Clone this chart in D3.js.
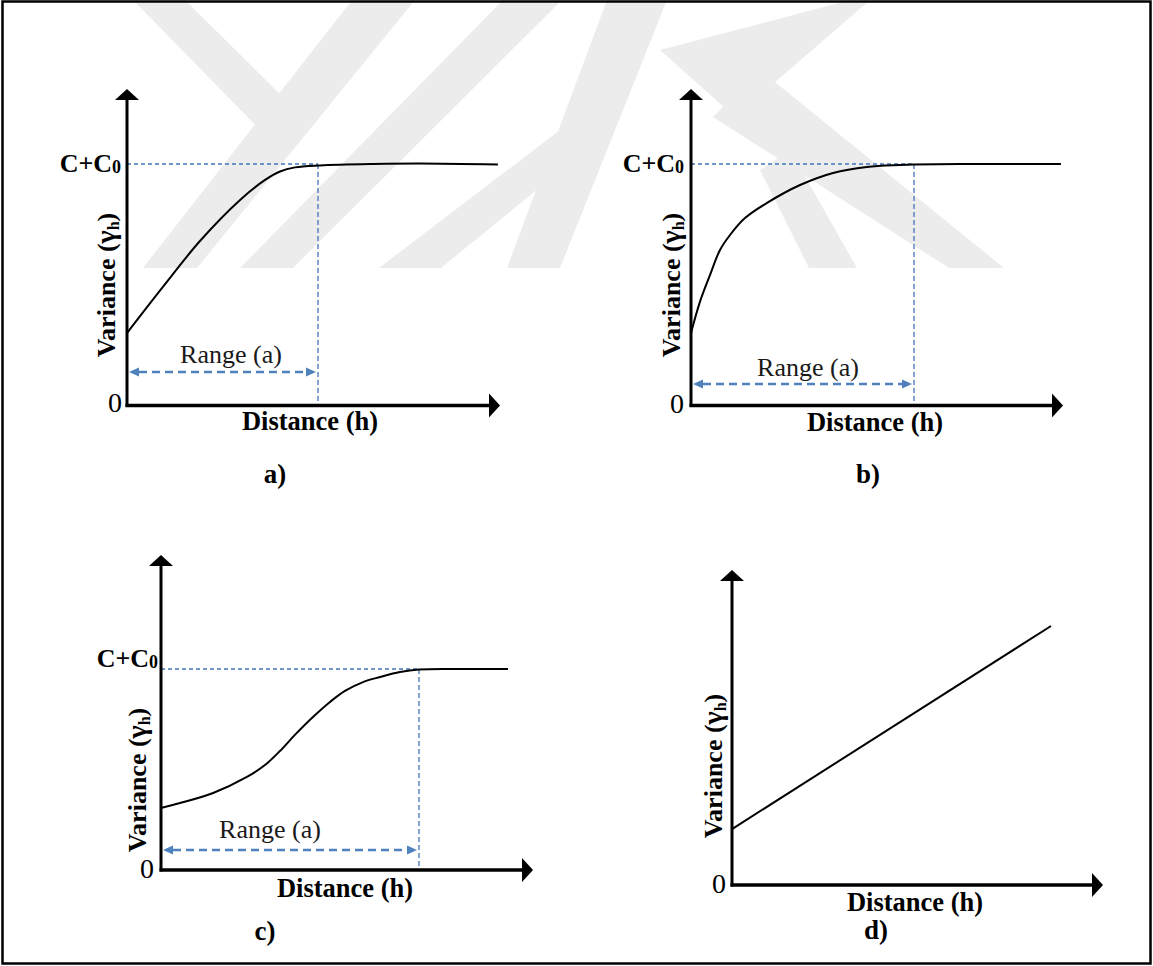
<!DOCTYPE html>
<html>
<head>
<meta charset="utf-8">
<script src="https://cdn.jsdelivr.net/npm/d3@7"></script>
<style>
  body { margin: 0; background: #fff; }
  svg { display: block; }
</style>
</head>
<body>
<svg id="fig" width="1153" height="966"></svg>
<script>
// Semivariogram models. Distance is given as a fraction of the range (h/a),
// variance as a fraction of the sill (C + C0).
const panelKeys = ["a", "b", "c", "d"];

// a) spherical model
const sphericalH = [0, 0.188, 0.382, 0.592, 0.723, 0.801, 0.880, 1.010, 1.288, 1.534, 1.942];
const sphericalG = [0.300, 0.491, 0.681, 0.851, 0.934, 0.969, 0.986, 0.994, 1.000, 1.002, 0.998];

// b) exponential model
const exponentialH = [0, 0.040, 0.085, 0.130, 0.175, 0.242, 0.341, 0.489, 0.637, 0.789, 0.937, 1.000, 1.206, 1.659];
const exponentialG = [0.300, 0.429, 0.540, 0.644, 0.706, 0.776, 0.839, 0.913, 0.963, 0.988, 0.996, 0.998, 1.000, 1.000];

// c) gaussian model
const gaussianH = [0, 0.074, 0.202, 0.333, 0.403, 0.461, 0.519, 0.589, 0.655, 0.713, 0.783, 0.849, 0.926, 1.000, 1.198, 1.345];
const gaussianG = [0.308, 0.333, 0.383, 0.463, 0.522, 0.592, 0.672, 0.761, 0.836, 0.891, 0.935, 0.960, 0.985, 0.998, 1.000, 1.000];

// d) linear model (no sill)
const linearH = [0, 1];
const linearG = [0.216, 1];

const seriesH = { a: sphericalH, b: exponentialH, c: gaussianH, d: linearH };
const seriesG = { a: sphericalG, b: exponentialG, c: gaussianG, d: linearG };

// Text
const yAxisTitle = "Variance (";
const xAxisTitle = "Distance (h)";
const sillText = "C+C";
const rangeText = "Range (a)";
const zeroText = "0";
const panelTags = { a: "a)", b: "b)", c: "c)", d: "d)" };
const hasSill = { a: true, b: true, c: true, d: false };

// Panel geometry
const layout = {
  a: { ox: 127, oy: 405.5, xTip: 500, yTip: 89, ux: 191, uy: 241.5,
       rangeY: 372, rangeLbl: [231, 363], sillLbl: [121, 172], zeroLbl: [122, 412],
       yLbl: [115, 285], xLbl: [310, 430], tag: [275, 483] },
  b: { ox: 691, oy: 405.5, xTip: 1063, yTip: 89, ux: 223, uy: 241.5,
       rangeY: 384, rangeLbl: [808, 376], sillLbl: [684, 172], zeroLbl: [684, 413],
       yLbl: [680, 285], xLbl: [875, 431], tag: [868, 483] },
  c: { ox: 161, oy: 870, xTip: 533, yTip: 555, ux: 258, uy: 201,
       rangeY: 850, rangeLbl: [270, 838], sillLbl: [158, 667], zeroLbl: [154, 878],
       yLbl: [146, 780], xLbl: [345, 897], tag: [265, 940] },
  d: { ox: 732, oy: 885, xTip: 1103, yTip: 570, ux: 319, uy: 259,
       zeroLbl: [726, 893], yLbl: [722, 766], xLbl: [915, 911], tag: [876, 939] }
};

const W = 1153, H = 966;
const svg = d3.select("#fig");
const serif = "'Liberation Serif', 'Times New Roman', serif";
const refBlue = "#3f76ba";
const arrowBlue = "#4f81bd";

// faint background emblem
const emblem = [
  [[133, 0], [185, 0], [290, 104], [262, 132]],
  [[352, 0], [415, 0], [197, 268], [143, 268]],
  [[503, 0], [562, 0], [293, 268], [240, 268]],
  [[560, 130], [610, 130], [441, 268], [379, 268]],
  [[607, 0], [667, 0], [560, 268], [507, 268]],
  [[660, 50], [850, 0], [870, 0], [735, 117]],
  [[713, 117], [760, 70], [1004, 268], [949, 268]],
  [[760, 170], [790, 150], [857, 268], [809, 268]]
];
svg.append("g")
  .selectAll("polygon")
  .data(emblem)
  .join("polygon")
  .attr("points", d => d.map(p => p.join(",")).join(" "))
  .attr("fill", "#ececec");

// outer frame
svg.append("rect")
  .attr("x", 2.5).attr("y", 1.5)
  .attr("width", W - 5).attr("height", H - 4)
  .attr("fill", "none").attr("stroke", "#000").attr("stroke-width", 2.5);

panelKeys.forEach(key => {
  const L = layout[key];
  const g = svg.append("g").attr("class", "panel-" + key);

  const x = d3.scaleLinear().domain([0, 1]).range([L.ox, L.ox + L.ux]);
  const y = d3.scaleLinear().domain([0, 1]).range([L.oy, L.oy - L.uy]);

  // reference lines for sill and range
  if (hasSill[key]) {
    g.append("line")
      .attr("x1", x(0)).attr("x2", x(1))
      .attr("y1", y(1)).attr("y2", y(1))
      .attr("stroke", refBlue).attr("stroke-width", 1.3)
      .attr("stroke-dasharray", "4,3");
    g.append("line")
      .attr("x1", x(1)).attr("x2", x(1))
      .attr("y1", y(1)).attr("y2", L.oy)
      .attr("stroke", refBlue).attr("stroke-width", 1.3)
      .attr("stroke-dasharray", "5,3");

    // double-headed range arrow
    const x0 = x(0) + 2, x1 = x(1) - 2, ry = L.rangeY, ah = 10, aw = 4.5;
    g.append("line")
      .attr("x1", x0 + ah).attr("x2", x1 - ah)
      .attr("y1", ry).attr("y2", ry)
      .attr("stroke", arrowBlue).attr("stroke-width", 2.5)
      .attr("stroke-dasharray", "8,5");
    g.append("polygon")
      .attr("points", [[x0, ry], [x0 + ah, ry - aw], [x0 + ah, ry + aw]].join(" "))
      .attr("fill", arrowBlue);
    g.append("polygon")
      .attr("points", [[x1, ry], [x1 - ah, ry - aw], [x1 - ah, ry + aw]].join(" "))
      .attr("fill", arrowBlue);

    g.append("text")
      .attr("x", L.rangeLbl[0]).attr("y", L.rangeLbl[1])
      .attr("text-anchor", "middle")
      .attr("font-family", serif).attr("font-size", 26)
      .attr("fill", "#1a1a1a")
      .text(rangeText);

    const s = g.append("text")
      .attr("x", L.sillLbl[0]).attr("y", L.sillLbl[1])
      .attr("text-anchor", "end")
      .attr("font-family", serif).attr("font-size", 26)
      .attr("font-weight", "bold");
    s.append("tspan").text(sillText);
    s.append("tspan").attr("font-size", 18).attr("dy", 1).text("0");
  }

  // model curve
  const pts = seriesH[key].map((h, i) => [h, seriesG[key][i]]);
  const line = d3.line()
    .x(d => x(d[0])).y(d => y(d[1]))
    .curve(key === "d" ? d3.curveLinear : d3.curveCatmullRom.alpha(0.5));
  g.append("path")
    .attr("d", line(pts))
    .attr("fill", "none").attr("stroke", "#000").attr("stroke-width", 2);

  // axes with arrow heads
  g.append("line")
    .attr("x1", L.ox).attr("x2", L.ox)
    .attr("y1", L.oy + 1.5).attr("y2", L.yTip + 10)
    .attr("stroke", "#000").attr("stroke-width", 3);
  g.append("polygon")
    .attr("points", [[L.ox, L.yTip], [L.ox - 12, L.yTip + 11], [L.ox + 12, L.yTip + 11]].join(" "))
    .attr("fill", "#000");
  g.append("line")
    .attr("x1", L.ox - 1.5).attr("x2", L.xTip - 10)
    .attr("y1", L.oy).attr("y2", L.oy)
    .attr("stroke", "#000").attr("stroke-width", 3.5);
  g.append("polygon")
    .attr("points", [[L.xTip, L.oy], [L.xTip - 11, L.oy - 12], [L.xTip - 11, L.oy + 12]].join(" "))
    .attr("fill", "#000");

  // zero label
  g.append("text")
    .attr("x", L.zeroLbl[0]).attr("y", L.zeroLbl[1])
    .attr("text-anchor", "end")
    .attr("font-family", serif).attr("font-size", 28)
    .text(zeroText);

  // axis titles
  const yt = g.append("text")
    .attr("transform", `translate(${L.yLbl[0]},${L.yLbl[1]}) rotate(-90)`)
    .attr("text-anchor", "middle")
    .attr("font-family", serif).attr("font-size", 26)
    .attr("font-weight", "bold");
  yt.append("tspan").text(yAxisTitle);
  yt.append("tspan").attr("font-size", 28).text("γ");
  yt.append("tspan").attr("font-size", 16).attr("dy", 4).text("h");
  yt.append("tspan").attr("dy", -4).text(")");

  g.append("text")
    .attr("x", L.xLbl[0]).attr("y", L.xLbl[1])
    .attr("text-anchor", "middle")
    .attr("font-family", serif).attr("font-size", 26.5)
    .attr("font-weight", "bold")
    .text(xAxisTitle);

  g.append("text")
    .attr("x", L.tag[0]).attr("y", L.tag[1])
    .attr("text-anchor", "middle")
    .attr("font-family", serif).attr("font-size", 27)
    .attr("font-weight", "bold")
    .text(panelTags[key]);
});
</script>
</body>
</html>
